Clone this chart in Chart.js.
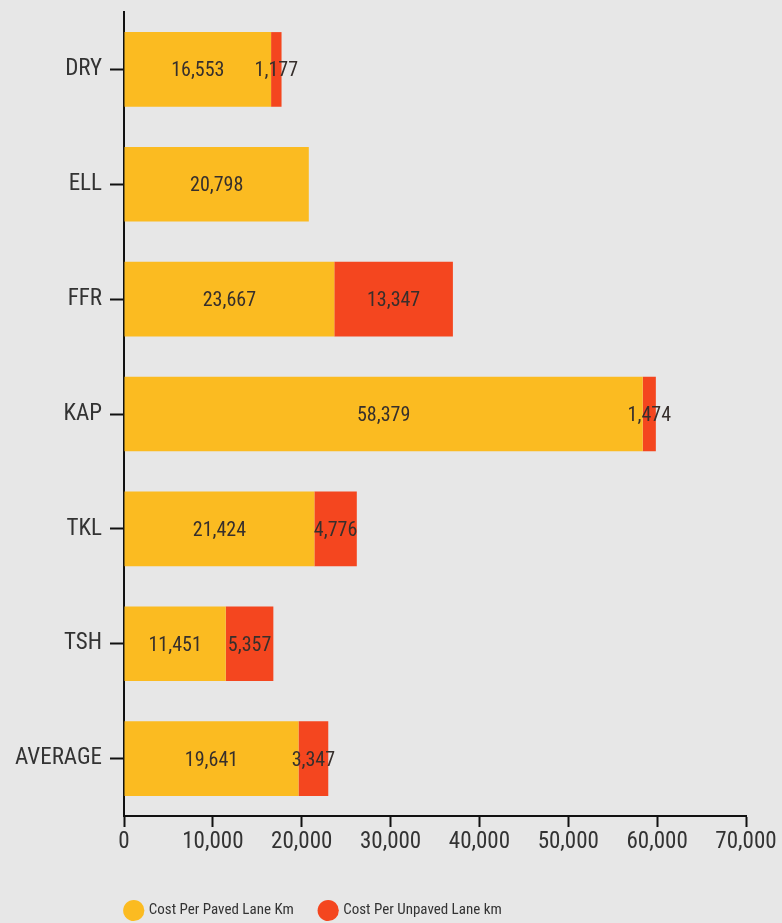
<!DOCTYPE html>
<html><head><meta charset="utf-8">
<script src="https://cdn.jsdelivr.net/npm/chart.js@4/dist/chart.umd.min.js"></script>
<style>
html,body{margin:0;padding:0;background:#e7e7e7;}
#wrap{width:782px;height:923px;position:relative;}
</style></head>
<body><div id="wrap"><canvas id="c" width="782" height="923"></canvas></div>
<script>
const categories = ["DRY","ELL","FFR","KAP","TKL","TSH","AVERAGE"];
const pavedCost = [16553, 20798, 23667, 58379, 21424, 11451, 19641];
const unpavedCost = [1177, null, 13347, 1474, 4776, 5357, 3347];
const seriesNames = ["Cost Per Paved Lane Km", "Cost Per Unpaved Lane km"];
const xTicks = [0,10000,20000,30000,40000,50000,60000,70000];

const FONT = "'Roboto Condensed','Liberation Sans Narrow','Arial Narrow',Roboto,sans-serif";

const labelPlugin = {
  id: 'segLabels',
  afterLayout(chart) {
    // shift the legend block like the reference
    const lg = chart.legend;
    if (lg) { lg.left -= 64; lg.right -= 64; lg.top += 5; lg.bottom += 5; }
  },
  afterDatasetsDraw(chart) {
    const ctx = chart.ctx;
    ctx.save();
    ctx.font = "20px " + FONT;
    ctx.fillStyle = "#362f2c";
    ctx.textAlign = "center";
    ctx.textBaseline = "middle";
    chart.data.datasets.forEach((ds, di) => {
      const meta = chart.getDatasetMeta(di);
      meta.data.forEach((bar, i) => {
        const v = ds.data[i];
        if (v == null) return;
        const p = bar.getProps(['x','base','y'], true);
        ctx.fillText(v.toLocaleString('en-US'), (p.x + p.base) / 2, p.y + 2);
      });
    });
    ctx.restore();
  }
};

new Chart(document.getElementById('c'), {
  type: 'bar',
  data: {
    labels: categories,
    datasets: [
      { label: seriesNames[0], data: pavedCost, backgroundColor: '#fbbb21', borderWidth: 0 },
      { label: seriesNames[1], data: unpavedCost, backgroundColor: '#f4461f', borderWidth: 0 }
    ]
  },
  options: {
    indexAxis: 'y',
    responsive: false,
    animation: false,
    devicePixelRatio: 1,
    layout: { padding: { left: 10, right: 36, top: 12, bottom: 0 } },
    datasets: { bar: { barPercentage: 0.65, categoryPercentage: 1.0 } },
    scales: {
      x: {
        stacked: true, min: 0, max: 70000,
        afterBuildTicks(s) { s.ticks = xTicks.map(v => ({ value: v })); },
        grid: { drawOnChartArea: false, drawTicks: true, tickLength: 11, tickColor: '#111', tickWidth: 2 },
        border: { color: '#111', width: 2 },
        ticks: { color: '#333', font: { family: FONT, size: 23 }, padding: 1,
                 callback: v => v.toLocaleString('en-US') },
        afterFit(s) { s.height = 55; s.paddingLeft = 0; s.paddingRight = 0; }
      },
      y: {
        stacked: true,
        grid: { drawOnChartArea: false, drawTicks: true, tickLength: 14, tickColor: '#111', tickWidth: 2, offset: false },
        border: { color: '#111', width: 2 },
        ticks: { color: '#333', font: { family: FONT, size: 23 }, padding: 8 },
        afterFit(s) { s.width = 114; s.paddingTop = 0; s.paddingBottom = 0; }
      }
    },
    plugins: {
      legend: {
        position: 'bottom',
        labels: { usePointStyle: true, pointStyle: 'circle', boxWidth: 16, boxHeight: 16,
                  color: '#333', font: { family: FONT, size: 15 }, padding: 27 }
      },
      tooltip: { enabled: false }
    }
  },
  plugins: [labelPlugin]
});
</script></body></html>
